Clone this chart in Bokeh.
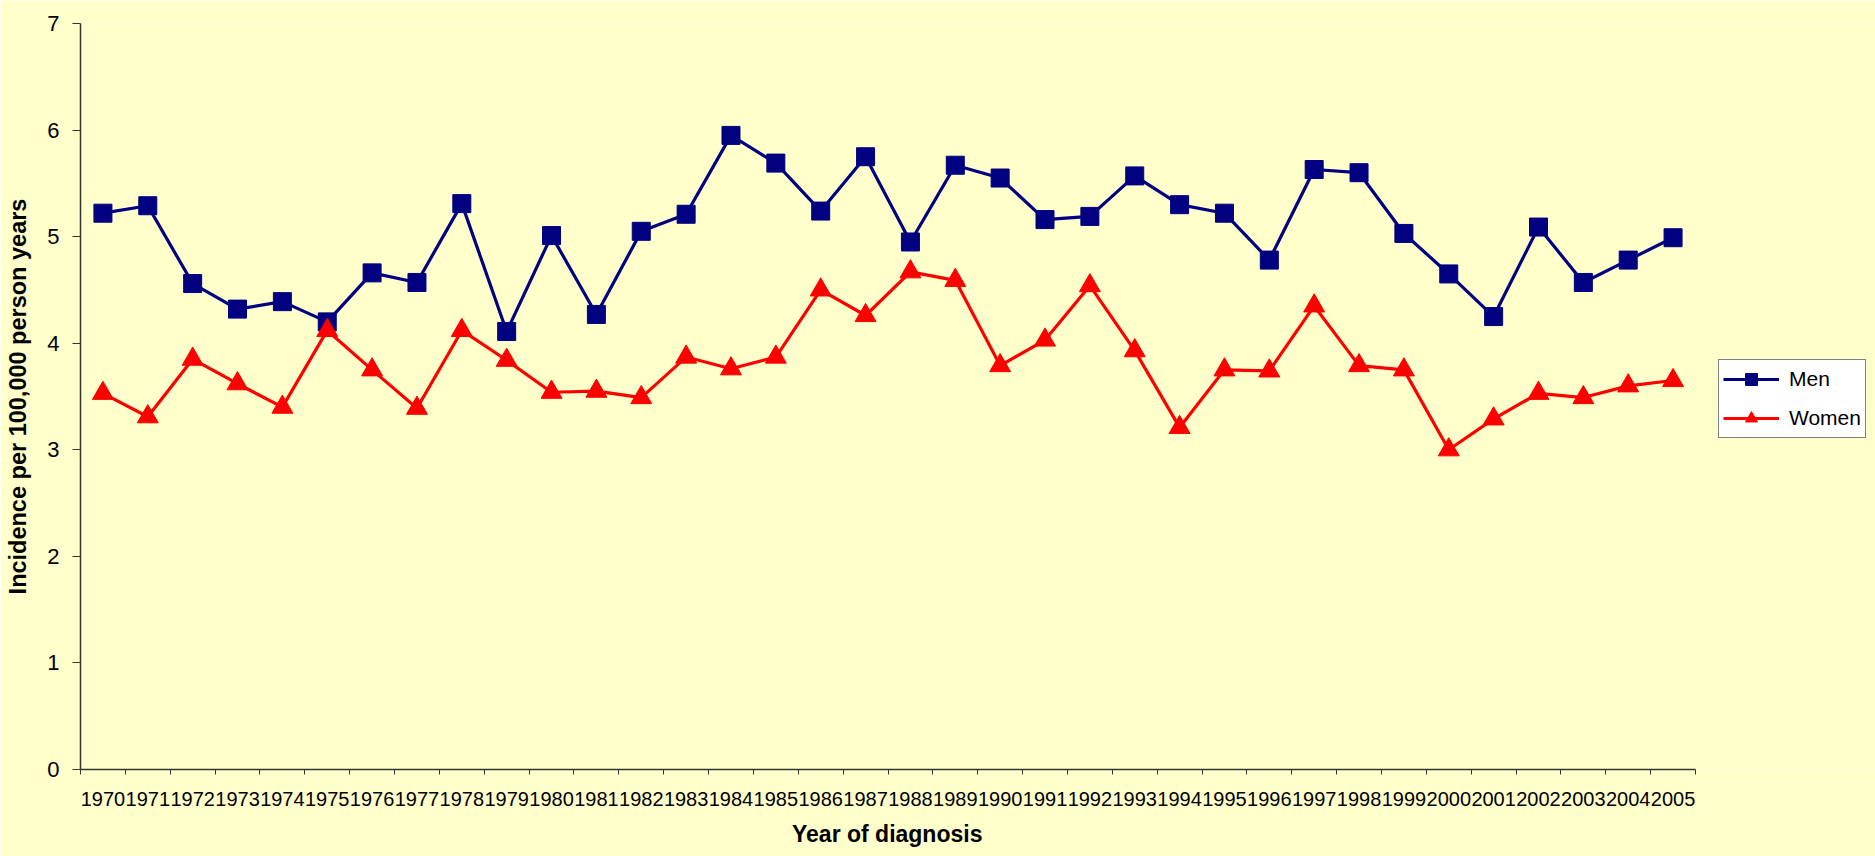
from bokeh.plotting import figure
from bokeh.models import Range1d, FixedTicker, Legend, LegendItem, ColumnDataSource, Title
from bokeh.embed import file_html
from bokeh.resources import INLINE

# ---- data ----
years = list(range(1970, 2006))
men = [5.22, 5.29, 4.56, 4.32, 4.39, 4.20, 4.66, 4.57, 5.31, 4.11, 5.01, 4.27,
       5.05, 5.21, 5.95, 5.69, 5.24, 5.75, 4.95, 5.67, 5.55, 5.16, 5.19, 5.57,
       5.30, 5.22, 4.78, 5.63, 5.60, 5.03, 4.65, 4.25, 5.09, 4.57, 4.78, 4.99]
women = [3.53, 3.31, 3.85, 3.62, 3.40, 4.12, 3.75, 3.39, 4.12, 3.84, 3.54, 3.55,
         3.49, 3.87, 3.76, 3.87, 4.50, 4.26, 4.67, 4.59, 3.79, 4.03, 4.54, 3.93,
         3.21, 3.75, 3.74, 4.35, 3.79, 3.75, 3.00, 3.29, 3.53, 3.49, 3.60, 3.65]
y_ticks = [0, 1, 2, 3, 4, 5, 6, 7]
series_names = ["Men", "Women"]
x_title = "Year of diagnosis"
y_title = "Incidence per 100,000 person years"

BG = "#FFFFCC"
MEN_C = "#000080"
WOMEN_C = "#FF0000"
AXIS_C = "#333333"
FONT = "Liberation Sans"

# layout (pixels): the drawn axis spans AXIS_PX of the FRAME_PX wide frame;
# the extra room on the right holds the legend
W, H = 1875, 856
LEFT, TOP, BOTTOM = 80, 23, 86
FRAME_PX = W - LEFT
AXIS_PX = 1615

src = ColumnDataSource(dict(year=years, men=men, women=women))

x0 = years[0] - 0.5
x1 = years[-1] + 0.5
x_end = x0 + (x1 - x0) * FRAME_PX / AXIS_PX

p = figure(width=W, height=H, output_backend="svg", toolbar_location=None,
           x_range=Range1d(x0, x_end),
           y_range=Range1d(y_ticks[0], y_ticks[-1]),
           min_border_left=LEFT, min_border_right=0, min_border_top=TOP,
           min_border_bottom=BOTTOM)
p.background_fill_color = BG
p.border_fill_color = BG
p.outline_line_color = None
p.xgrid.visible = False
p.ygrid.visible = False

# x axis: labels at year centres, short ticks at category boundaries
bounds = [y - 0.5 for y in years] + [x1]
xa = p.xaxis[0]
xa.bounds = (x0, x1)
xa.ticker = FixedTicker(ticks=years, minor_ticks=bounds)
xa.major_tick_out = 0
xa.major_tick_in = 0
xa.minor_tick_out = 5
xa.minor_tick_in = 0
xa.minor_tick_line_color = AXIS_C
xa.axis_line_color = AXIS_C
xa.axis_line_width = 1.5
xa.major_label_standoff = 17
xa.major_label_text_font = FONT
xa.major_label_text_font_size = "20px"
xa.major_label_text_color = "black"
xa.major_label_text_line_height = 1.0

# x-axis title, centred under the drawn axis (not the whole frame)
title_w = 192  # approx. width of the bold title text in px
x_title_model = Title(text=x_title, align="left", offset=AXIS_PX / 2 - title_w / 2,
                      text_font=FONT, text_font_style="bold", text_font_size="23px",
                      text_color="black", standoff=20, text_line_height=1.0)
p.add_layout(x_title_model, "below")

ya = p.yaxis[0]
ya.ticker = FixedTicker(ticks=y_ticks)
ya.major_tick_out = 8
ya.major_tick_in = 0
ya.minor_tick_out = 0
ya.minor_tick_in = 0
ya.major_tick_line_color = AXIS_C
ya.axis_line_color = AXIS_C
ya.axis_line_width = 1.5
ya.major_label_standoff = 13
ya.major_label_text_font = FONT
ya.major_label_text_font_size = "22px"
ya.major_label_text_color = "black"
ya.axis_label = y_title
ya.axis_label_text_font = FONT
ya.axis_label_text_font_style = "bold"
ya.axis_label_text_font_size = "23.5px"
ya.axis_label_text_color = "black"
ya.axis_label_standoff = 13

men_line = p.line("year", "men", source=src, line_color=MEN_C, line_width=3.2)
men_pts = p.scatter("year", "men", source=src, marker="square", size=18,
                    fill_color=MEN_C, line_color=MEN_C)
women_line = p.line("year", "women", source=src, line_color=WOMEN_C, line_width=3.2)
women_pts = p.scatter("year", "women", source=src, marker="triangle", size=21,
                      fill_color=WOMEN_C, line_color=WOMEN_C)

legend = Legend(items=[LegendItem(label=series_names[0], renderers=[men_line, men_pts]),
                       LegendItem(label=series_names[1], renderers=[women_line, women_pts])],
                location=(1718 - LEFT, 331))
legend.border_line_color = "black"
legend.border_line_width = 1
legend.background_fill_color = "white"
legend.background_fill_alpha = 1
legend.padding = 4
legend.spacing = 9
legend.margin = 0
legend.glyph_width = 56
legend.glyph_height = 30
legend.label_height = 30
legend.label_standoff = 10
legend.label_text_font = FONT
legend.label_text_font_size = "21px"
legend.label_text_color = "black"
p.add_layout(legend)

open("out.html", "w").write(file_html(p, INLINE))
